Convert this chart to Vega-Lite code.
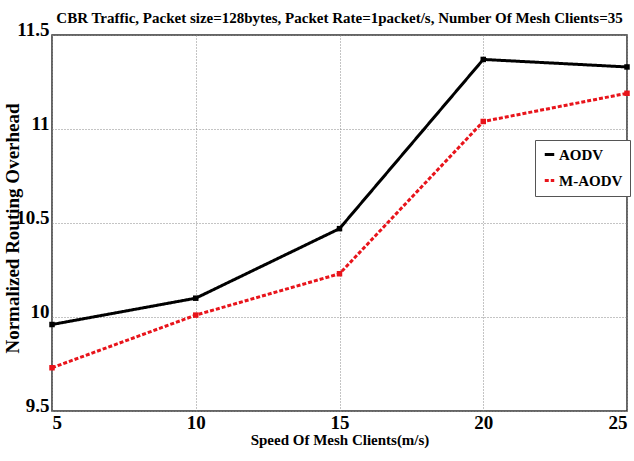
{
  "$schema": "https://vega.github.io/schema/vega-lite/v6.json",
  "width": 575,
  "height": 376,
  "autosize": {"type": "none"},
  "padding": {"left": 52, "top": 35, "right": 7, "bottom": 50},
  "background": "white",
  "config": {
    "font": "Liberation Serif",
    "view": {"stroke": "#333", "strokeWidth": 1.5}
  },
  "title": {
    "text": "CBR Traffic, Packet size=128bytes, Packet Rate=1packet/s, Number Of Mesh Clients=35",
    "font": "Liberation Serif",
    "fontSize": 15,
    "fontWeight": "bold",
    "color": "black",
    "anchor": "middle",
    "offset": -6
  },
  "data": {
    "values": [
      {"speed": 5, "overhead": 9.96, "protocol": "AODV"},
      {"speed": 10, "overhead": 10.1, "protocol": "AODV"},
      {"speed": 15, "overhead": 10.47, "protocol": "AODV"},
      {"speed": 20, "overhead": 11.37, "protocol": "AODV"},
      {"speed": 25, "overhead": 11.33, "protocol": "AODV"},
      {"speed": 5, "overhead": 9.73, "protocol": "M-AODV"},
      {"speed": 10, "overhead": 10.01, "protocol": "M-AODV"},
      {"speed": 15, "overhead": 10.23, "protocol": "M-AODV"},
      {"speed": 20, "overhead": 11.04, "protocol": "M-AODV"},
      {"speed": 25, "overhead": 11.19, "protocol": "M-AODV"}
    ]
  },
  "encoding": {
    "x": {
      "field": "speed", "type": "quantitative",
      "scale": {"domain": [5, 25], "nice": false, "zero": false},
      "axis": {
        "values": [5, 10, 15, 20, 25],
        "title": "Speed Of Mesh Clients(m/s)",
        "titleFont": "Liberation Serif", "titleFontSize": 15, "titleFontWeight": "bold", "titleColor": "black",
        "titlePadding": 0,
        "labelFont": "Liberation Serif", "labelFontSize": 19, "labelFontWeight": "bold", "labelColor": "black",
        "labelPadding": 2,
        "grid": true, "gridDash": [1, 2], "gridColor": "#888",
        "domain": false, "ticks": false
      }
    },
    "y": {
      "field": "overhead", "type": "quantitative",
      "scale": {"domain": [9.5, 11.5], "nice": false, "zero": false},
      "axis": {
        "values": [9.5, 10, 10.5, 11, 11.5],
        "format": "~g",
        "title": "Normalized  Routing  Overhead",
        "titleFont": "Liberation Serif", "titleFontSize": 19, "titleFontWeight": "bold", "titleColor": "black",
        "titleX": -40,
        "titleY": 193,
        "titleAngle": -90,
        "titleBaseline": "middle",
        "titleAlign": "center",
        "labelFont": "Liberation Serif", "labelFontSize": 19, "labelFontWeight": "bold", "labelColor": "black",
        "labelBaseline": "alphabetic",
        "labelPadding": 3,
        "grid": true, "gridDash": [1, 2], "gridColor": "#888",
        "domain": false, "ticks": false
      }
    },
    "color": {
      "field": "protocol", "type": "nominal",
      "scale": {"domain": ["AODV", "M-AODV"], "range": ["black", "#e8141b"]},
      "legend": {
        "title": null,
        "orient": "none",
        "legendX": 483,
        "legendY": 105,
        "strokeColor": "#555",
        "padding": 7,
        "fillColor": "white",
        "labelFont": "Liberation Serif", "labelFontSize": 15, "labelFontWeight": "bold", "labelColor": "black",
        "labelOffset": 2,
        "symbolStrokeWidth": 3,
        "symbolSize": 90,
        "rowPadding": 10
      }
    },
    "strokeDash": {
      "field": "protocol", "type": "nominal",
      "scale": {"domain": ["AODV", "M-AODV"], "range": [[1, 0], [4, 2]]},
      "legend": null
    }
  },
  "layer": [
    {"mark": {"type": "line", "strokeWidth": 3}},
    {"mark": {"type": "point", "shape": "square", "filled": true, "size": 30, "opacity": 1}, "encoding": {"strokeDash": {"value": [1, 0]}}}
  ]
}
